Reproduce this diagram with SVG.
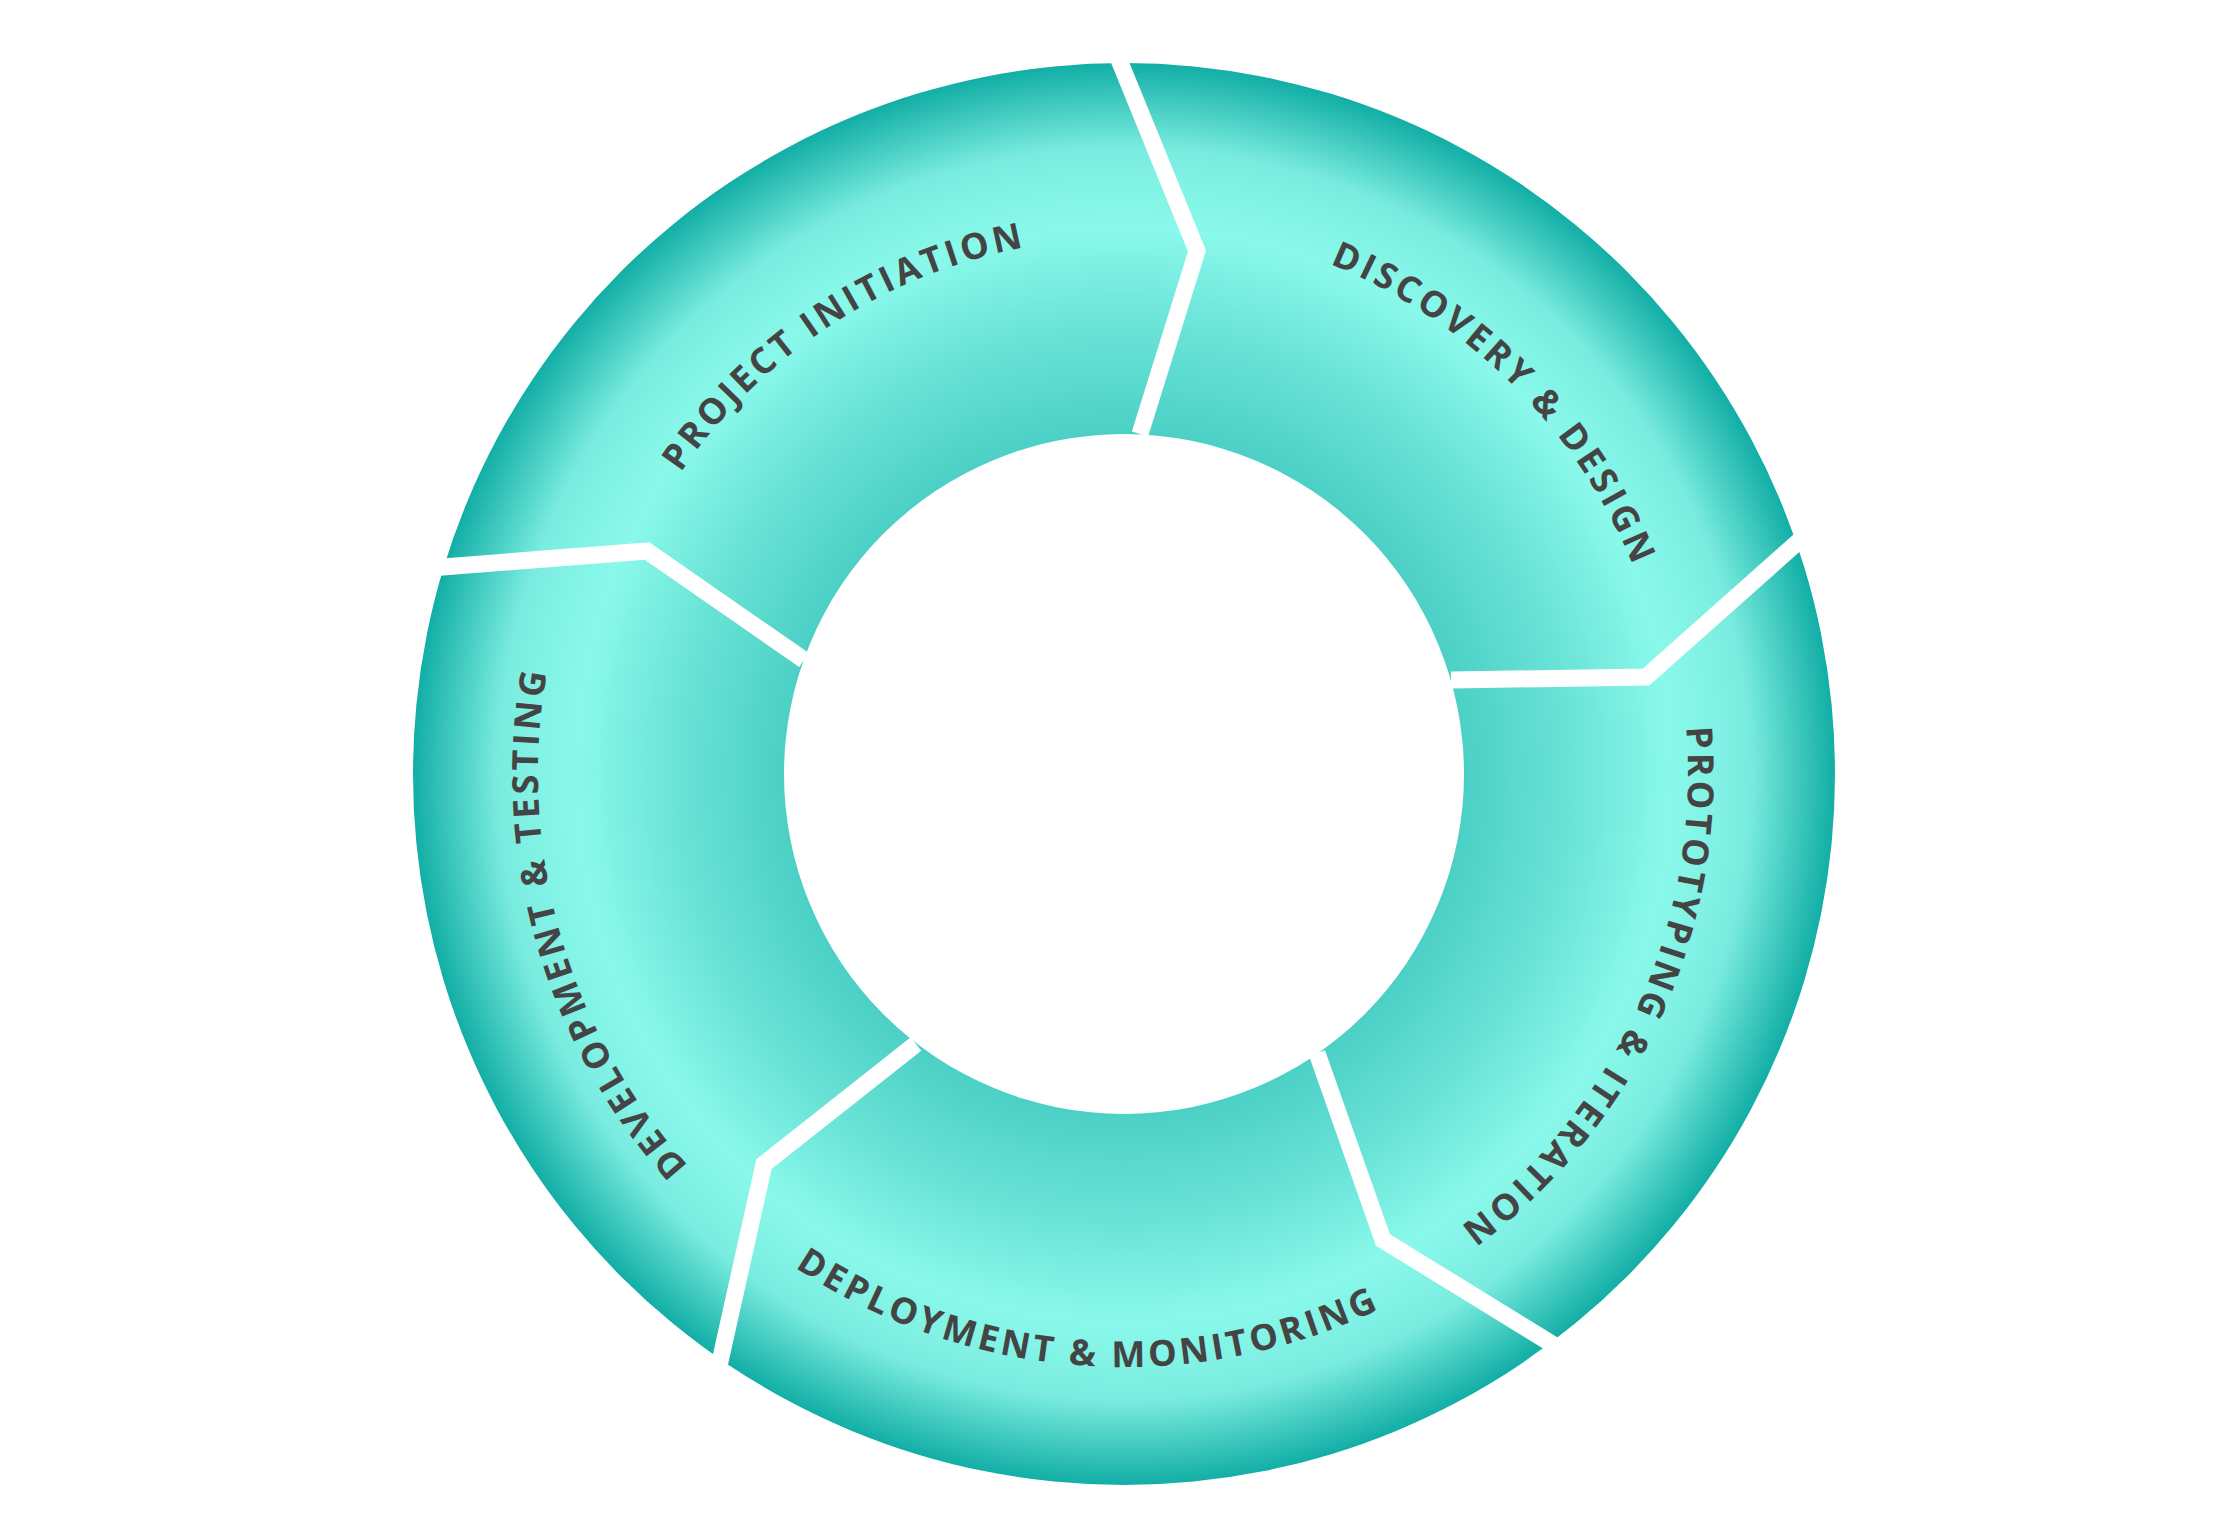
<svg xmlns="http://www.w3.org/2000/svg" width="2240" height="1540" viewBox="0 0 2240 1540">
<defs>
<radialGradient id="g" gradientUnits="userSpaceOnUse" cx="1124" cy="774" r="711">
<stop offset="0.478" stop-color="#4cd0c5"/>
<stop offset="0.64" stop-color="#6ce4d8"/>
<stop offset="0.77" stop-color="#8af9eb"/>
<stop offset="0.88" stop-color="#7aecdf"/>
<stop offset="1" stop-color="#12aea6"/>
</radialGradient>
<path id="p1" d="M1660,774 A536 536 0 1 1 588,774 A536 536 0 1 1 1660,774"/>
<path id="p2" d="M1674,774 A550 550 0 1 1 574,774 A550 550 0 1 1 1674,774"/>
<path id="p3" d="M560,774 A564 564 0 1 1 1688,774 A564 564 0 1 1 560,774"/>
<path id="p4" d="M1717,774 A593 593 0 1 0 531,774 A593 593 0 1 0 1717,774"/>
<path id="p5" d="M1710,774 A586 586 0 1 1 538,774 A586 586 0 1 1 1710,774"/>
</defs>
<style>
.lbl{font-family:"Open Sans","DejaVu Sans",sans-serif;font-weight:700;font-size:36px;letter-spacing:3.5px;fill:#444444}
.sep{fill:none;stroke:#ffffff;stroke-width:17;stroke-linejoin:miter}
</style>
<rect width="2240" height="1540" fill="#ffffff"/>
<g id="ring">
<path d="M1835,774 A711 711 0 1 1 413,774 A711 711 0 1 1 1835,774 Z M1464,774 A340 340 0 1 0 784,774 A340 340 0 1 0 1464,774 Z" fill="url(#g)" fill-rule="evenodd"/>
</g>
<g id="connectors">
<polyline class="sep" points="1115,50 1197,251 1140,434"/>
<polyline class="sep" points="1808,533 1646,677 1451,680"/>
<polyline class="sep" points="1565,1352 1383,1240 1317,1053"/>
<polyline class="sep" points="717,1375 764,1164 916,1044"/>
<polyline class="sep" points="430,568 647,551 804,660"/>
</g>
<g id="n1"><text class="lbl" text-anchor="middle"><textPath href="#p1" startOffset="65.8%">PROJECT INITIATION</textPath></text></g>
<g id="n2"><text class="lbl" text-anchor="middle"><textPath href="#p2" startOffset="87.5%">DISCOVERY &amp; DESIGN</textPath></text></g>
<g id="n3"><text class="lbl" text-anchor="middle"><textPath href="#p3" startOffset="56.8%">PROTOTYPING &amp; ITERATION</textPath></text></g>
<g id="n4"><text class="lbl" text-anchor="middle"><textPath href="#p4" startOffset="73.9%">DEPLOYMENT &amp; MONITORING</textPath></text></g>
<g id="n5"><text class="lbl" text-anchor="middle"><textPath href="#p5" startOffset="45.6%">DEVELOPMENT &amp; TESTING</textPath></text></g>
</svg>
